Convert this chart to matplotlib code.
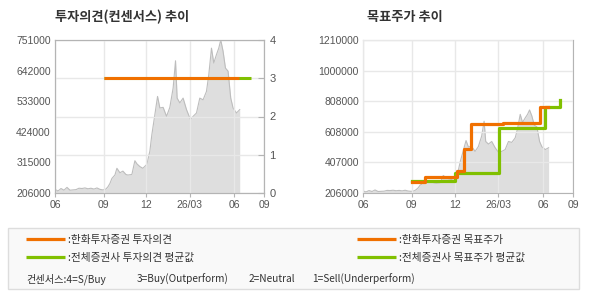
import numpy as np
import matplotlib as mpl
import matplotlib.pyplot as plt
from matplotlib.lines import Line2D
from matplotlib.patches import Rectangle

mpl.rcParams.update({
    'font.family': ['Noto Sans CJK KR', 'DejaVu Sans'],
    'font.size': 7.5,
})

################################################################################
# data (x = position on the shared date axis, 0 = left edge)

xtick_pos = [0, 48.7, 91.3, 134.7, 179.3, 209.3]
xtick_lab = ['06', '09', '12', '26/03', '06', '09']

price_x = [0, 3, 6, 9, 12, 15, 18, 21, 24, 27, 30, 33, 36, 39, 42, 45, 48, 51,
           53, 55, 57, 60, 62, 65, 68, 71, 73, 77, 80, 82, 85, 88, 92, 94, 95,
           97, 100, 102.7, 105, 108.3, 111.7, 115, 118.3, 120.7, 122.3, 125,
           128.3, 131.7, 135.7, 138.3, 141.7, 145, 148.3, 151.7, 154, 156.7,
           159, 161.7, 164, 166, 168.3, 170.7, 173.3, 176, 178.3, 181.7, 185]
price = [219000, 213000, 222000, 216000, 226000, 216000, 217000, 218000,
         223000, 222000, 224000, 221000, 223000, 220000, 224000, 219000,
         217000, 220000, 228000, 240000, 258000, 270000, 294000, 278000,
         284000, 272000, 270000, 272000, 321000, 310000, 300000, 294000,
         308000, 340000, 355000, 414000, 485000, 550000, 509000, 511000,
         479000, 511000, 580000, 677000, 544000, 527000, 544000, 503000,
         467000, 479000, 491000, 544000, 538000, 568000, 627000, 722000,
         669000, 699000, 722000, 751000, 711000, 651000, 640000, 544000,
         509000, 491000, 503000]

# 투자의견 (3 = Buy)
opinion_x = [48.7, 184.3]
opinion = [3, 3]
cons_op_x = [48.7, 196]
cons_op = [3, 3]

# 목표주가
target_x = [48.7, 62, 93.3, 100.3, 107.7, 139.7, 176.3, 184.3]
target = [280000, 309000, 352000, 495000, 660000, 668000, 768000, 768000]
cons_tp_x = [48.7, 92, 135.3, 181, 196]
cons_tp = [287000, 340000, 635000, 772000, 816000]

left_ticks = [206000, 315000, 424000, 533000, 642000, 751000]
right_ticks = np.linspace(206000, 1210000, 6)
right_lab = ['206000', '407000', '608000', '808000', '1000000', '1210000']

################################################################################

orange = '#f07000'
green = '#80c000'
spine_c = '#b4b4b4'
grid_c = '#e8e8e8'
txt_c = '#555555'

fig = plt.figure(figsize=(5.9, 3.0), dpi=100)
W, H = 590., 300.


def style(ax):
    for s in ax.spines.values():
        s.set_color(spine_c)
    ax.set_xlim(0, 209.3)
    ax.set_xticks(xtick_pos)
    ax.set_xticklabels(xtick_lab)
    ax.tick_params(axis='x', colors=spine_c, labelcolor=txt_c, length=3, pad=2,
                   labelsize=7.5)
    ax.tick_params(axis='y', colors=spine_c, labelcolor=txt_c, length=0, pad=3,
                   labelsize=7.5)
    for lab in ax.get_xticklabels() + ax.get_yticklabels():
        lab.set_family('Liberation Sans')


def draw_price(ax, lo):
    ax.fill_between(price_x, lo, price, color='#dedede', lw=0, zorder=1)
    ax.plot(price_x, price, color='#bdbdbd', lw=0.8, zorder=2)


# left: 투자의견
ax = fig.add_axes([55 / W, 107 / H, 209 / W, 153 / H])
draw_price(ax, left_ticks[0])
ax.set_ylim(left_ticks[0], left_ticks[-1])
ax.set_yticks(left_ticks)
ax.set_yticklabels([str(t) for t in left_ticks])
ax.set_axisbelow(False)
ax.grid(axis='x', color=grid_c, lw=1, zorder=3)
style(ax)

ax2 = ax.twinx()
ax2.set_ylim(0, 4)
ax2.set_yticks([0, 1, 2, 3, 4])
ax2.grid(axis='y', color=grid_c, lw=1)
ax2.plot(cons_op_x, cons_op, color=green, lw=2.2, solid_capstyle='butt', zorder=4)
ax2.plot(opinion_x, opinion, color=orange, lw=2.2, solid_capstyle='butt', zorder=5)
style(ax2)
ax2.tick_params(axis='y', direction='in', length=4, pad=4)
for lab in ax2.get_yticklabels():
    lab.set_family('Liberation Sans')
    lab.set_fontsize(8)

# right: 목표주가
bx = fig.add_axes([363 / W, 107 / H, 210 / W, 153 / H])
draw_price(bx, right_ticks[0])
bx.set_ylim(right_ticks[0], right_ticks[-1])
bx.set_yticks(right_ticks)
bx.set_yticklabels(right_lab)
bx.set_axisbelow(False)
bx.grid(color=grid_c, lw=1, zorder=3)
bx.step(cons_tp_x, cons_tp, where='post', color=green, lw=2.3, zorder=4)
bx.step(target_x, target, where='post', color=orange, lw=2.3, zorder=5)
style(bx)

# titles
fig.text(55 / W, 1 - 17 / H, '투자의견(컨센서스) 추이', fontsize=9.5,
         fontweight='bold', color='#333333', va='center')
fig.text(367 / W, 1 - 17 / H, '목표주가 추이', fontsize=9.5,
         fontweight='bold', color='#333333', va='center')

# legend box
fig.add_artist(Rectangle((8 / W, 1 - 289 / H), 571 / W, 61 / H,
                         transform=fig.transFigure, facecolor='#f9f9f9',
                         edgecolor='#dddddd', lw=1, zorder=0))

leg_kw = dict(loc='upper left', frameon=False, borderpad=0, borderaxespad=0,
              handlelength=3.6, handletextpad=0.3, labelspacing=0.7,
              fontsize=7.7, labelcolor='#333333')
h_or = Line2D([], [], color=orange, lw=2.3, solid_capstyle='butt')
h_gr = Line2D([], [], color=green, lw=2.3, solid_capstyle='butt')
fig.legend([h_or, h_gr], [':한화투자증권 투자의견', ':전체증권사 투자의견 평균값'],
           bbox_to_anchor=(26 / W, 1 - 235 / H), **leg_kw)
fig.legend([h_or, h_gr], [':한화투자증권 목표주가', ':전체증권사 목표주가 평균값'],
           bbox_to_anchor=(357 / W, 1 - 235 / H), **leg_kw)

foot = ['컨센서스:4=S/Buy', '3=Buy(Outperform)', '2=Neutral', '1=Sell(Underperform)']
foot_x = [26, 137, 249, 312]
for t, xx in zip(foot, foot_x):
    fig.text(xx / W, 1 - 279 / H, t, fontsize=7.3, color='#333333', va='center')

fig.savefig('out.png', dpi=100)
